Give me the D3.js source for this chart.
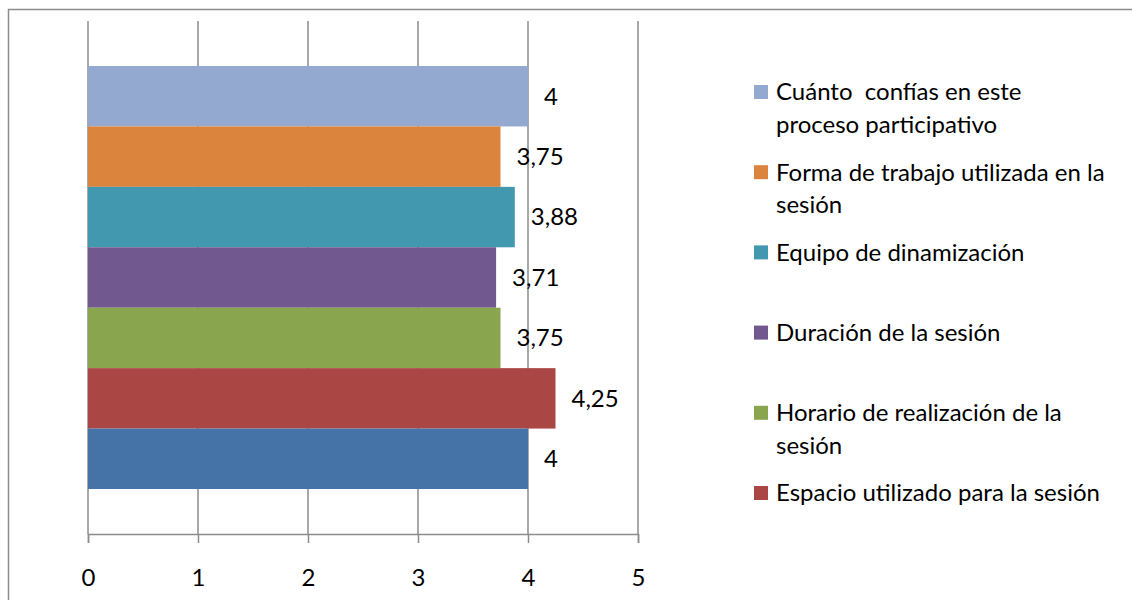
<!DOCTYPE html>
<html>
<head>
<meta charset="utf-8">
<script src="https://cdn.jsdelivr.net/npm/d3@7"></script>
<style>
  body { margin: 0; background: #fff; }
  text { font-family: Lato, "Open Sans", sans-serif; fill: #000; }
</style>
</head>
<body>
<div class="chart"></div>
<script>
// series, top bar to bottom bar
const series_names = [
    ["Cuánto  confías en este", "proceso participativo"],
    ["Forma de trabajo utilizada en la", "sesión"],
    ["Equipo de dinamización"],
    ["Duración de la sesión"],
    ["Horario de realización de la", "sesión"],
    ["Espacio utilizado para la sesión"],
    [""]  // 7th entry is cut off in the legend
]
const series_values = [4, 3.75, 3.88, 3.71, 3.75, 4.25, 4]
const series_colors = ["#93A9CF", "#DB843D", "#4198AF", "#71588F", "#89A54E", "#AA4643", "#4572A7"]
const x_ticks = [0, 1, 2, 3, 4, 5]

const chart_param = {
    width: 1132,
    height: 600,
    font: 24,
    plot: { left: 88, right: 638, top: 21, bottom: 534 },
    legend: { x: 754, y: 80, step: 80.2, line: 32.5, box: 14 }
}

const fmt = v => String(v).replace(".", ",")

const svg = d3.select(".chart").append("svg")
    .attr("width", chart_param.width)
    .attr("height", chart_param.height)

// outer frame (only top and left edges are visible)
svg.append("path")
    .attr("d", "M8.5,600V9.5H1132")
    .attr("fill", "none")
    .attr("stroke", "#8c8c8c")
    .attr("stroke-width", 1.5)

const x = d3.scaleLinear()
    .domain([0, 5])
    .range([chart_param.plot.left, chart_param.plot.right])

const y = d3.scaleBand()
    .domain(d3.range(series_values.length))
    .range([chart_param.plot.top + 45, chart_param.plot.bottom - 45])

// vertical gridlines
svg.append("g").selectAll("line")
    .data(x_ticks).enter()
    .append("line")
    .attr("x1", d => x(d)).attr("x2", d => x(d))
    .attr("y1", chart_param.plot.top).attr("y2", chart_param.plot.bottom)
    .attr("stroke", "#8c8c8c")
    .attr("stroke-width", 1.5)

// bars
svg.append("g").selectAll("rect")
    .data(series_values).enter()
    .append("rect")
    .attr("x", x(0))
    .attr("y", (d, i) => y(i))
    .attr("width", d => x(d) - x(0))
    .attr("height", y.bandwidth())
    .attr("fill", (d, i) => series_colors[i])

// data labels
svg.append("g").selectAll("text")
    .data(series_values).enter()
    .append("text")
    .attr("x", d => x(d) + 16)
    .attr("y", (d, i) => y(i) + y.bandwidth() / 2)
    .attr("dy", "0.35em")
    .attr("font-size", chart_param.font)
    .text(d => fmt(d))

// x axis
const axis = svg.append("g")
    .attr("transform", `translate(0,${chart_param.plot.bottom})`)
    .call(d3.axisBottom(x).tickValues(x_ticks).tickSize(9).tickPadding(26).tickFormat(fmt))
axis.select(".domain").attr("stroke", "#8c8c8c").attr("stroke-width", 1.5)
axis.selectAll(".tick line").attr("stroke", "#8c8c8c").attr("stroke-width", 1.5)
axis.selectAll(".tick text")
    .attr("font-size", chart_param.font)
    .attr("font-family", "Lato, \"Open Sans\", sans-serif")
    .attr("fill", "#000")

// legend
const legend = svg.append("g")
    .selectAll("g")
    .data(series_names.filter(d => d[0] !== "")).enter()
    .append("g")
    .attr("transform", (d, i) => `translate(${chart_param.legend.x},${chart_param.legend.y + i * chart_param.legend.step})`)

legend.append("rect")
    .attr("x", 0).attr("y", 5)
    .attr("width", chart_param.legend.box).attr("height", chart_param.legend.box)
    .attr("fill", (d, i) => series_colors[i])

legend.append("text")
    .attr("font-size", chart_param.font)
    .style("white-space", "pre")
    .selectAll("tspan")
    .data(d => d).enter()
    .append("tspan")
    .attr("x", 22)
    .attr("y", (d, j) => 12 + j * chart_param.legend.line)
    .attr("dy", "0.35em")
    .text(d => d)
</script>
</body>
</html>
